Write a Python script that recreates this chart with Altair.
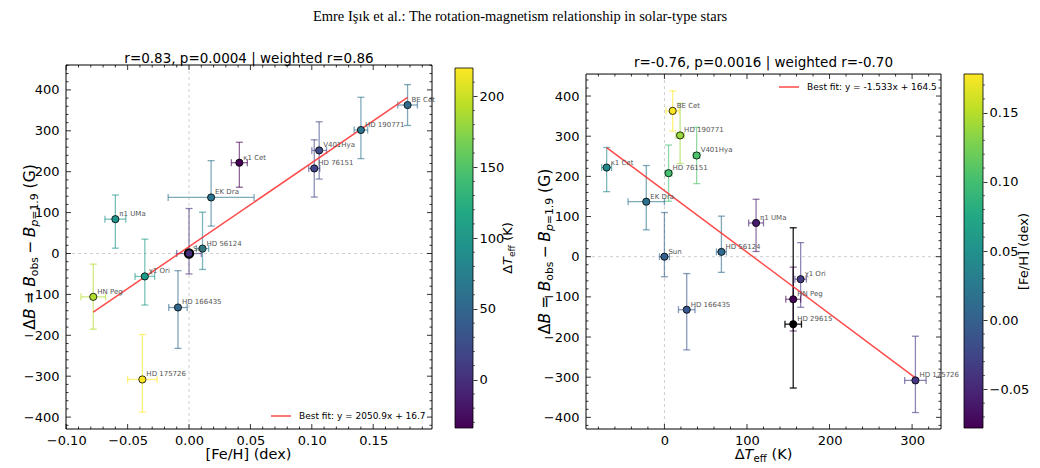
import altair as alt
import numpy as np
import pandas as pd

# ---------------------------------------------------------------------------
# Star sample: metallicity, effective-temperature offset and field excess
# ---------------------------------------------------------------------------
stars = ["BE Cet", "HD 190771", "V401Hya", "HD 76151", "κ1 Cet", "EK Dra", "π1 UMa",
         "HD 56124", "Sun", "χ1 Ori", "HN Peg", "HD 166435", "HD 175726", "HD 29615"]
feh = [0.178, 0.140, 0.106, 0.102, 0.041, 0.018, -0.060,
       0.011, 0.000, -0.036, -0.078, -0.009, -0.038, None]
feh_err = [0.008, 0.0055, 0.006, 0.0045, 0.0065, 0.035, 0.0085,
           0.005, 0.010, 0.008, 0.010, 0.0075, 0.012, None]
dteff = [10, 19, 39, 5, -70, -22, 111, 69, 0, 165, 156, 27, 304, 156]
dteff_err = [8, 5, 4, 4, 6, 22, 9, 6, 6, 7, 9, 10, 13, 10]
delta_b = [363, 302, 252, 208, 222, 137, 84, 12, 0, -56, -106, -132, -308, -168]
delta_b_up = [50, 80, 70, 70, 50, 90, 59, 89, 110, 91, 80, 90, 110, 240]
delta_b_dn = [50, 70, 70, 70, 60, 70, 71, 51, 50, 70, 79, 100, 80, 159]
# ΔTeff values used to colour the [Fe/H] panel
dteff_colour = [55, 62, 22, 17, -34, 62, 98, 80, 0, 106, 190, 50, 220, None]

fit_feh = (2050.9, 16.7)
fit_dteff = (-1.533, 164.5)
stats_feh = "r=0.83, p=0.0004 | weighted r=0.86"
stats_dteff = "r=-0.76, p=0.0016 | weighted r=-0.70"
suptitle = "Emre Işık et al.: The rotation-magnetism relationship in solar-type stars"

FONT = "DejaVu Sans"
VIRIDIS = ["#440154", "#482475", "#414487", "#355f8d", "#2a788e", "#21918c",
           "#22a884", "#44bf70", "#7ad151", "#bddf26", "#fde725"]
FIT_RED = "#ff2a2a"

df = pd.DataFrame({
    "star": stars, "feh": feh, "feh_err": feh_err, "dteff": dteff,
    "dteff_err": dteff_err, "dB": delta_b, "dB_up": delta_b_up,
    "dB_dn": delta_b_dn, "tcol": dteff_colour,
})
df["dB_top"] = df["dB"] + df["dB_up"]
df["dB_bot"] = df["dB"] - df["dB_dn"]
df["feh_lo"] = df["feh"] - df["feh_err"]
df["feh_hi"] = df["feh"] + df["feh_err"]
df["dt_lo"] = df["dteff"] - df["dteff_err"]
df["dt_hi"] = df["dteff"] + df["dteff_err"]

FEH_COLS = ["feh", "feh_err", "feh_lo", "feh_hi", "tcol"]
left_df = df[df["feh"].notna()].reset_index(drop=True)
right_df = df[df["feh"].notna()].reset_index(drop=True)
right_nofeh = df[df["feh"].isna()].reset_index(drop=True).drop(columns=FEH_COLS)

ONE = pd.DataFrame({"k": [0]})

# panel geometry (pixels)
LW, LH = 366, 364
RW, RH = 355, 364
CBL_W, CBR_W = 18, 19
SPACER_W = 67
GAP = 23

lx = alt.Scale(domain=[-0.1002, 0.1979], nice=False, zero=False)
ly = alt.Scale(domain=[-429.1, 460.9], nice=False, zero=False)
rx = alt.Scale(domain=[-95, 335], nice=False, zero=False)
ry = alt.Scale(domain=[-429.0, 477.3], nice=False, zero=False)
R_TOP = 454.8                      # upper frame edge of the ΔTeff panel
R_PXU = RH / (477.3 + 429.0)      # pixels per gauss in the ΔTeff panel

MINUS = "replace(datum.label, '-', '\u2212')"
lab = dict(labelFont=FONT, labelFontSize=13, labelColor="black", ticks=False,
           tickSize=0, domain=False, grid=False, title=None, labelFlush=False,
           labelOverlap=False, labelBound=False)
xa_l = alt.Axis(values=[-0.10, -0.05, 0.0, 0.05, 0.10, 0.15], format=".2f",
                labelExpr=MINUS, labelPadding=5, **lab)
ya_l = alt.Axis(values=list(range(-400, 401, 100)), labelExpr=MINUS,
                labelPadding=7, **lab)
xa_r = alt.Axis(values=[0, 100, 200, 300], labelPadding=5, **lab)
ya_r = alt.Axis(values=list(range(-400, 401, 100)), labelExpr=MINUS,
                labelPadding=7, **lab)

feh_known = [f for f in feh if f is not None]
col_l = alt.Color("tcol:Q", scale=alt.Scale(scheme="viridis", domain=[-34, 220]), legend=None)
col_r = alt.Color("feh:Q", scale=alt.Scale(scheme="viridis", domain=[min(feh_known), max(feh_known)]),
                  legend=None)

# ---------------------------------------------------------------------------
# text helpers (math-style titles built from pieces)
# ---------------------------------------------------------------------------
ADV = {" ": 651, "Δ": 1403, "B": 1405, "=": 1716, "o": 1253, "b": 1300, "s": 1067,
       "−": 1716, "p": 1300, "1": 1303, ".": 651, "9": 1303, "(": 799, "G": 1589,
       ")": 799, "T": 1251, "e": 1260, "f": 721, "K": 1343, "[": 799, "F": 1178,
       "/": 690, "H": 1540, "]": 799, "d": 1300, "x": 1212}


def advance(text, size):
    return sum(ADV.get(c, 1250) for c in text) / 2048.0 * size


def math_label(parts, size, ax, ay, vertical=False):
    placed, pos = [], 0.0
    for text, italic, sub, gap in parts:
        pos += gap * size
        fs = size * 0.7 if sub else size
        placed.append((text, italic, fs, pos, 0.2 * size if sub else 0.0))
        pos += advance(text, fs)
    layers = []
    for text, italic, fs, along, drop in placed:
        if vertical:
            px, py, ang = ax + drop, ay + pos / 2 - along, 270
        else:
            px, py, ang = ax - pos / 2 + along, ay + drop, 0
        layers.append(
            alt.Chart(ONE).mark_text(
                text=text, font=FONT, fontSize=fs, angle=ang, align="left",
                baseline="alphabetic", color="black",
                fontStyle="italic" if italic else "normal",
            ).encode(x=alt.value(px), y=alt.value(py))
        )
    return layers


DB_TITLE = [("Δ", False, False, 0), ("B", True, False, 0), ("=", False, False, 0.28),
            ("B", True, False, 0.28), ("obs", False, True, 0), ("−", False, False, 0.22),
            ("B", True, False, 0.22), ("p", True, True, 0), ("=1.9", False, True, 0),
            ("(G)", False, False, 0.32)]
DT_TITLE = [("Δ", False, False, 0), ("T", True, False, 0), ("eff", False, True, 0),
            ("(K)", False, False, 0.32)]
FEH_TITLE = [("[Fe/H] (dex)", False, False, 0)]
AX_FS = 14.5
DB_FS = 15.5


def text_at(text, x, y, size, font=FONT, align="center"):
    return alt.Chart(ONE).mark_text(text=text, font=font, fontSize=size, align=align,
                                    baseline="alphabetic", color="black").encode(
        x=alt.value(x), y=alt.value(y))


def pixel_rule(x, y, x2=None, y2=None, color="black", width=1.0, **kw):
    enc = dict(x=alt.value(x), y=alt.value(y))
    if x2 is not None:
        enc["x2"] = alt.value(x2)
    if y2 is not None:
        enc["y2"] = alt.value(y2)
    return alt.Chart(ONE).mark_rule(color=color, strokeWidth=width, **kw).encode(**enc)


# ---------------------------------------------------------------------------
# shared layer builders
# ---------------------------------------------------------------------------
def error_layers(data, x, xlo, xhi, xs, ys, xa, ya, colour, opacity):
    base = alt.Chart(data)
    sw, cap = 1.3, 7
    return [
        base.mark_rule(strokeWidth=sw, opacity=opacity).encode(
            x=alt.X(f"{x}:Q", scale=xs, axis=xa),
            y=alt.Y("dB_bot:Q", scale=ys, axis=ya), y2="dB_top:Q", color=colour),
        base.mark_rule(strokeWidth=sw, opacity=opacity).encode(
            x=alt.X(f"{xlo}:Q", scale=xs, axis=xa), x2=f"{xhi}:Q",
            y=alt.Y("dB:Q", scale=ys, axis=ya), color=colour),
        base.mark_tick(orient="horizontal", size=cap, thickness=sw, opacity=opacity).encode(
            x=alt.X(f"{x}:Q", scale=xs, axis=xa), y=alt.Y("dB_bot:Q", scale=ys, axis=ya), color=colour),
        base.mark_tick(orient="horizontal", size=cap, thickness=sw, opacity=opacity).encode(
            x=alt.X(f"{x}:Q", scale=xs, axis=xa), y=alt.Y("dB_top:Q", scale=ys, axis=ya), color=colour),
        base.mark_tick(orient="vertical", size=cap, thickness=sw, opacity=opacity).encode(
            x=alt.X(f"{xlo}:Q", scale=xs, axis=xa), y=alt.Y("dB:Q", scale=ys, axis=ya), color=colour),
        base.mark_tick(orient="vertical", size=cap, thickness=sw, opacity=opacity).encode(
            x=alt.X(f"{xhi}:Q", scale=xs, axis=xa), y=alt.Y("dB:Q", scale=ys, axis=ya), color=colour),
    ]


def minor_values(lo, hi, step, major_step):
    vals = np.round(np.arange(lo, hi + step / 2, step), 6)
    return [float(v) for v in vals if abs(v / major_step - round(v / major_step)) > 1e-6]


def x_ticks(vals, length, xs, xa, h, top_datum=None, ys=None, ya=None):
    d = pd.DataFrame({"v": vals})
    rule = alt.Chart(d).mark_rule(color="black", strokeWidth=0.8)
    out = [rule.encode(x=alt.X("v:Q", scale=xs, axis=xa), y=alt.value(h), y2=alt.value(h - length))]
    if top_datum is None:
        out.append(rule.encode(x=alt.X("v:Q", scale=xs, axis=xa), y=alt.value(0), y2=alt.value(length)))
    else:
        out.append(rule.encode(x=alt.X("v:Q", scale=xs, axis=xa),
                               y=alt.YDatum(top_datum, scale=ys, axis=ya),
                               y2=alt.Y2Datum(top_datum - length / R_PXU)))
    return out


def y_ticks(vals, length, ys, ya, w):
    d = pd.DataFrame({"v": vals})
    rule = alt.Chart(d).mark_rule(color="black", strokeWidth=0.8)
    return [rule.encode(y=alt.Y("v:Q", scale=ys, axis=ya), x=alt.value(0), x2=alt.value(length)),
            rule.encode(y=alt.Y("v:Q", scale=ys, axis=ya), x=alt.value(w), x2=alt.value(w - length))]


def zero_lines(xs, ys, xa, ya, w, h, top=None):
    z = pd.DataFrame({"z": [0.0]})
    st = dict(color="#c8c8c8", strokeWidth=0.9, strokeDash=[3, 3])
    vtop = alt.value(0) if top is None else alt.YDatum(top, scale=ys, axis=ya)
    return [alt.Chart(z).mark_rule(**st).encode(x=alt.X("z:Q", scale=xs, axis=xa),
                                                 y=vtop, y2=alt.value(h)),
            alt.Chart(z).mark_rule(**st).encode(y=alt.Y("z:Q", scale=ys, axis=ya),
                                                 x=alt.value(0), x2=alt.value(w))]


def fit_layer(xvals, coef, label, xs, ys, xa, ya, legend_xy):
    slope, icpt = coef
    d = pd.DataFrame({"x": [min(xvals), max(xvals)], "lab": [label, label]})
    return alt.Chart(d).transform_calculate(
        y=f"{slope} * datum.x + {icpt}"
    ).mark_line(strokeWidth=1.5, opacity=0.85).encode(
        x=alt.X("x:Q", scale=xs, axis=xa),
        y=alt.Y("y:Q", scale=ys, axis=ya),
        stroke=alt.Stroke("lab:N", scale=alt.Scale(range=[FIT_RED]), legend=alt.Legend(
            orient="none", legendX=legend_xy[0], legendY=legend_xy[1], title=None,
            symbolType="stroke", symbolSize=400, symbolStrokeWidth=1.5, padding=0,
            labelFont=FONT, labelFontSize=9, labelColor="black", labelOffset=7,
            labelLimit=400)),
    )


def labels_layer(data, x, xs, ys, xa, ya):
    return alt.Chart(data).mark_text(
        align="left", baseline="alphabetic", dx=4, dy=-3, font=FONT, fontSize=7,
        color="#555555").encode(
        x=alt.X(f"{x}:Q", scale=xs, axis=xa), y=alt.Y("dB:Q", scale=ys, axis=ya), text="star:N")


# ---------------------------------------------------------------------------
# [Fe/H] panel
# ---------------------------------------------------------------------------
left_layers = []
left_layers += zero_lines(lx, ly, xa_l, ya_l, LW, LH)
left_layers += error_layers(left_df, "feh", "feh_lo", "feh_hi", lx, ly, xa_l, ya_l, col_l, 0.6)
left_layers.append(fit_layer(left_df["feh"], fit_feh, "Best fit: y = 2050.9x + 16.7",
                             lx, ly, xa_l, ya_l, (204, 340)))
left_layers.append(
    alt.Chart(left_df).transform_filter("datum.star != 'Sun'").mark_circle(
        size=52, stroke="black", strokeWidth=0.8, opacity=1).encode(
        x=alt.X("feh:Q", scale=lx, axis=xa_l), y=alt.Y("dB:Q", scale=ly, axis=ya_l), color=col_l))
left_layers.append(
    alt.Chart(left_df).transform_filter("datum.star == 'Sun'").mark_circle(
        size=70, stroke="black", strokeWidth=2, opacity=1).encode(
        x=alt.X("feh:Q", scale=lx, axis=xa_l), y=alt.Y("dB:Q", scale=ly, axis=ya_l), color=col_l))
left_layers.append(labels_layer(left_df, "feh", lx, ly, xa_l, ya_l))
left_layers += x_ticks([-0.10, -0.05, 0.0, 0.05, 0.10, 0.15], 5, lx, xa_l, LH)
left_layers += x_ticks(minor_values(-0.09, 0.19, 0.01, 0.05), 2.5, lx, xa_l, LH)
left_layers += y_ticks(list(range(-400, 401, 100)), 5, ly, ya_l, LW)
left_layers += y_ticks(minor_values(-420, 460, 20, 100), 2.5, ly, ya_l, LW)
left_layers += [pixel_rule(0, 0, x2=LW), pixel_rule(0, LH, x2=LW),
                pixel_rule(0, 0, y2=LH), pixel_rule(LW, 0, y2=LH)]
left_layers.append(text_at(stats_feh, LW / 2, -2.5, 13.5))
left_layers.append(text_at(suptitle, 454, -44.5, 14.5, font="Liberation Serif"))
left_layers += math_label(DB_TITLE, DB_FS, -31, LH / 2, vertical=True)
left_layers += math_label(FEH_TITLE, AX_FS, LW / 2, 394)
# canvas corners
left_layers.append(alt.Chart(ONE).mark_rect(opacity=0).encode(
    x=alt.value(-66), x2=alt.value(-65), y=alt.value(-65), y2=alt.value(-64)))
left_layers.append(alt.Chart(ONE).mark_rect(opacity=0).encode(
    x=alt.value(973), x2=alt.value(974), y=alt.value(402), y2=alt.value(403)))

left_panel = alt.layer(*left_layers).properties(width=LW, height=LH)

# ---------------------------------------------------------------------------
# ΔTeff panel
# ---------------------------------------------------------------------------
right_layers = []
right_layers += zero_lines(rx, ry, xa_r, ya_r, RW, RH, top=R_TOP)
right_layers += error_layers(right_df, "dteff", "dt_lo", "dt_hi", rx, ry, xa_r, ya_r, col_r, 0.6)
right_layers += error_layers(right_nofeh, "dteff", "dt_lo", "dt_hi", rx, ry, xa_r, ya_r,
                             alt.value("black"), 0.9)
right_layers.append(fit_layer(df["dteff"], fit_dteff, "Best fit: y = -1.533x + 164.5",
                              rx, ry, xa_r, ya_r, (192, 11)))
right_layers.append(
    alt.Chart(right_df).mark_circle(size=52, stroke="black", strokeWidth=0.8, opacity=1).encode(
        x=alt.X("dteff:Q", scale=rx, axis=xa_r), y=alt.Y("dB:Q", scale=ry, axis=ya_r), color=col_r))
right_layers.append(
    alt.Chart(right_nofeh).mark_circle(size=52, stroke="black", strokeWidth=0.8, opacity=1,
                                       color="black").encode(
        x=alt.X("dteff:Q", scale=rx, axis=xa_r), y=alt.Y("dB:Q", scale=ry, axis=ya_r)))
right_layers.append(labels_layer(df.drop(columns=FEH_COLS), "dteff", rx, ry, xa_r, ya_r))
right_layers += x_ticks([0, 100, 200, 300], 5, rx, xa_r, RH, R_TOP, ry, ya_r)
right_layers += x_ticks(minor_values(-80, 320, 20, 100), 2.5, rx, xa_r, RH, R_TOP, ry, ya_r)
right_layers += y_ticks(list(range(-400, 401, 100)), 5, ry, ya_r, RW)
right_layers += y_ticks(minor_values(-420, 440, 20, 100), 2.5, ry, ya_r, RW)
frame = alt.Chart(ONE).mark_rule(color="black", strokeWidth=1)
right_layers += [
    frame.encode(x=alt.value(0), x2=alt.value(RW), y=alt.YDatum(R_TOP, scale=ry, axis=ya_r)),
    pixel_rule(0, RH, x2=RW),
    frame.encode(x=alt.value(0), y=alt.YDatum(R_TOP, scale=ry, axis=ya_r), y2=alt.value(RH)),
    frame.encode(x=alt.value(RW), y=alt.YDatum(R_TOP, scale=ry, axis=ya_r), y2=alt.value(RH)),
    alt.Chart(ONE).mark_text(text=stats_dteff, font=FONT, fontSize=13.5, align="center",
                             baseline="alphabetic", dy=-7.5, color="black").encode(
        x=alt.value(RW / 2), y=alt.YDatum(R_TOP, scale=ry, axis=ya_r)),
]
right_layers += math_label(DB_TITLE, DB_FS, -36, 186.5, vertical=True)
right_layers += math_label(DT_TITLE, AX_FS, RW / 2, 394)

right_panel = alt.layer(*right_layers).properties(width=RW, height=RH)


# ---------------------------------------------------------------------------
# colour bars
# ---------------------------------------------------------------------------
def colourbar(lo, hi, dom, width, major, minor, fmt):
    sc = alt.Scale(domain=dom, nice=False, zero=False)
    ax = alt.Axis(orient="right", values=major, format=fmt, labelExpr=MINUS, ticks=True, tickSize=4,
                  tickColor="black", tickWidth=0.8, labelPadding=2, domain=False, grid=False,
                  title=None, labelFont=FONT, labelFontSize=13, labelColor="black",
                  labelFlush=False, labelOverlap=False, labelBound=False)
    grad = alt.LinearGradient(
        gradient="linear", x1=0, x2=0, y1=1, y2=0,
        stops=[alt.GradientStop(color=c, offset=i / (len(VIRIDIS) - 1)) for i, c in enumerate(VIRIDIS)])
    bar = alt.Chart(pd.DataFrame({"lo": [lo], "hi": [hi]})).mark_rect(
        fill=grad, stroke="black", strokeWidth=0.8).encode(
        x=alt.value(0), x2=alt.value(width),
        y=alt.Y("lo:Q", scale=sc, axis=ax), y2="hi:Q")
    mn = alt.Chart(pd.DataFrame({"v": minor})).mark_rule(color="black", strokeWidth=0.6).encode(
        y=alt.Y("v:Q", scale=sc, axis=ax), x=alt.value(width), x2=alt.value(width + 2))
    return [bar, mn]


cb_l_layers = colourbar(-34, 220, [-34.71, 222.12], CBL_W, [0, 50, 100, 150, 200],
                        minor_values(-30, 210, 10, 50), "d")
cb_l_layers += math_label(DT_TITLE, 13, 57, 183, vertical=True)
cb_left = alt.layer(*cb_l_layers).properties(width=CBL_W, height=LH)

cb_r_layers = colourbar(min(feh_known), max(feh_known), [-0.0787, 0.1845], CBR_W,
                        [-0.05, 0.0, 0.05, 0.10, 0.15], minor_values(-0.07, 0.17, 0.01, 0.05), ".2f")
cb_r_layers += math_label(FEH_TITLE, 13, 64, 186, vertical=True)
cb_right = alt.layer(*cb_r_layers).properties(width=CBR_W, height=RH)

spacer = alt.Chart(ONE).mark_point(opacity=0).encode(
    x=alt.value(0), y=alt.value(0)).properties(width=SPACER_W, height=LH)

chart = alt.hconcat(
    left_panel, cb_left, spacer, right_panel, cb_right, spacing=GAP, bounds="flush"
).resolve_scale(
    color="independent", stroke="independent"
).resolve_legend(
    stroke="independent"
).properties(
    padding={"left": 0, "top": 0, "right": 0, "bottom": 0},
    background="white",
).configure_view(stroke="transparent", strokeWidth=0)

chart.save("out.html", embed_options={"renderer": "svg", "actions": False})
